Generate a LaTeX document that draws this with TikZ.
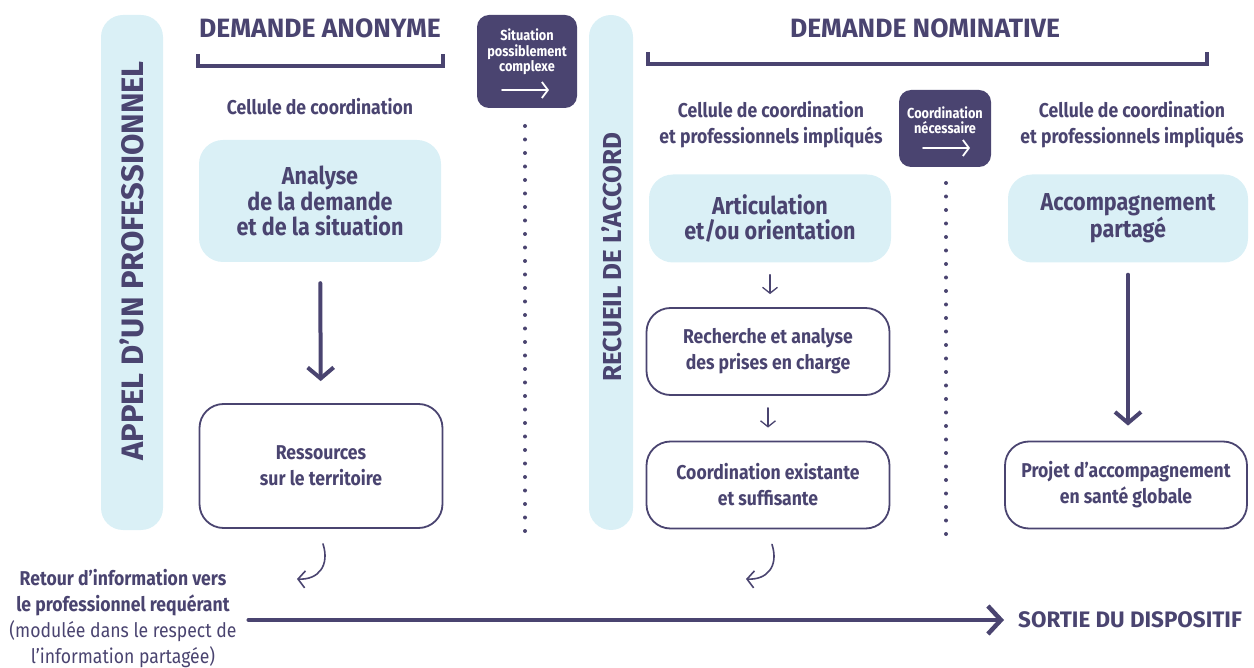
\documentclass[tikz,border=0pt]{standalone}
\usepackage{fontspec}
\setmainfont{Fira Sans}[FakeStretch=0.88]
\newfontfamily\largefont{Fira Sans}
\usetikzlibrary{arrows.meta}
\definecolor{prune}{RGB}{74,68,112}
\definecolor{ciel}{RGB}{218,240,246}

\begin{document}
\begin{tikzpicture}[x=1pt,y=-1pt,line cap=round,
    every node/.style = {text=prune, align=center, inner sep=2pt},
    band/.style = {fill=ciel, rounded corners=22pt, minimum height=515pt},
    bandtext/.style = {rotate=90, font=\largefont\bfseries},
    titre/.style = {font=\largefont\bfseries\fontsize{26.5}{30}\selectfont},
    cellule/.style = {font=\bfseries\fontsize{20}{26}\selectfont},
    etape/.style = {fill=ciel, rounded corners=24pt,
        font=\bfseries\fontsize{24.5}{25.5}\selectfont},
    cadre/.style = {draw=prune, line width=1.8pt, rounded corners=24pt,
        font=\bfseries\fontsize{20}{26}\selectfont},
    bascule/.style = {fill=prune, rounded corners=12pt},
    basculetext/.style = {text=white, font=\bfseries\fontsize{14.5}{15.5}\selectfont},
    fleche/.style = {draw=prune, line width=4pt,
        -{Straight Barb[length=11pt,width=26pt]}},
    petitefleche/.style = {draw=prune, line width=1.3pt,
        -{Straight Barb[length=6pt,width=15pt]}},
    retourfleche/.style = {draw=prune, line width=1.6pt,
        -{Straight Barb[length=7pt,width=17pt]}},
    blanche/.style = {draw=white, line width=1.8pt,
        -{Straight Barb[length=6pt,width=16pt]}},
    crochet/.style = {draw=prune, line width=3.5pt, line cap=butt},
    pointilles/.style = {draw=prune, line width=4pt,
        dash pattern=on 0pt off 13.5pt}]

\useasboundingbox (0,0) rectangle (1254,668);

% Bandes verticales
\node[band, minimum width=62pt] (appel) at (132,272.5) {};
\node[bandtext, font=\largefont\bfseries\fontsize{31}{32}\selectfont] (appeltxt) at (132,261)
    {APPEL D’UN PROFESSIONNEL};
\node[band, minimum width=44pt] (accord) at (611,272.5) {};
\node[bandtext, font=\largefont\bfseries\fontsize{26}{28}\selectfont] (accordtxt) at (612,257)
    {RECUEIL DE L’ACCORD};

% Demande anonyme
\node[titre] (anonyme) at (320,28) {DEMANDE ANONYME};
\draw[crochet] (198,54) -- (198,66) -- (443,66) -- (443,54);
\node[cellule] (cellA) at (320,107) {Cellule de coordination};
\node[etape, minimum width=242pt, minimum height=122pt] (analyse) at (320,201)
    {Analyse\\de la demande\\et de la situation};
\node[cadre, minimum width=243pt, minimum height=124pt] (ressources) at (321,466)
    {Ressources\\sur le territoire};
\draw[fleche, shorten <=21pt, shorten >=22pt] (analyse) -- (ressources);

% Situation possiblement complexe
\node[bascule, minimum width=100pt, minimum height=93pt] (situation) at (527,61.5) {};
\node[basculetext] (situationtxt) at (527,52) {Situation\\possiblement\\complexe};
\draw[blanche] (502,90) -- (549,90);
\draw[pointilles] (525,126) -- (525,536);

% Demande nominative
\node[titre] (nominative) at (925,28) {DEMANDE NOMINATIVE};
\draw[crochet] (648,52) -- (648,64) -- (1207,64) -- (1207,52);
\node[cellule] (cellB) at (771,125) {Cellule de coordination\\et professionnels impliqués};
\node[cellule] (cellC) at (1132,125) {Cellule de coordination\\et professionnels impliqués};
\node[etape, minimum width=242pt, minimum height=88pt] (articulation) at (770,218.5)
    {Articulation\\et/ou orientation};
\node[cadre, minimum width=243pt, minimum height=87pt] (recherche) at (768,351.5)
    {Recherche et analyse\\des prises en charge};
\node[cadre, minimum width=243pt, minimum height=87pt] (existante) at (768,485)
    {Coordination existante\\et suffisante};
\draw[petitefleche, shorten <=12pt, shorten >=13pt] (articulation) -- (articulation |- recherche.north);
\draw[petitefleche, shorten <=12pt, shorten >=13pt] (recherche) -- (existante);

% Coordination necessaire
\node[bascule, minimum width=92pt, minimum height=77pt] (necessaire) at (945,128.5) {};
\node[basculetext] (necessairetxt) at (945,120) {Coordination\\nécessaire};
\draw[blanche] (923,148) -- (970,148);
\draw[pointilles] (946,183) -- (946,540);

\node[etape, minimum width=240pt, minimum height=88pt] (accompagnement) at (1128,218.5)
    {Accompagnement\\partagé};
\node[cadre, minimum width=242pt, minimum height=87pt] (projet) at (1126,485)
    {Projet d’accompagnement\\en santé globale};
\draw[fleche, shorten <=12pt, shorten >=15pt] (accompagnement) -- (accompagnement |- projet.north);

% Retours
\coordinate (retourA) at (297,579);
\coordinate (retourB) at (746,579);
\draw[retourfleche] ([xshift=2pt,yshift=-15pt]ressources.south)
    .. controls +(7,22) and (318,580) .. (retourA);
\draw[retourfleche] ([xshift=4pt,yshift=-15pt]existante.south)
    .. controls +(7,22) and (767,580) .. (retourB);

% Sortie
\node[font=\fontsize{20}{26}\selectfont] (retour) at (123,619)
    {\textbf{Retour d’information vers}\\\textbf{le professionnel requérant}\\(modulée dans le respect de\\l’information partagée)};
\node[titre, font=\largefont\bfseries\fontsize{22.4}{25}\selectfont, anchor=west] (sortie) at (1016,620)
    {SORTIE DU DISPOSITIF};
\draw[draw=prune, line width=4.5pt, -{Straight Barb[length=13pt,width=28pt]},
    shorten <=10pt, shorten >=12pt] (retour.east |- sortie.west) -- (sortie.west);
\end{tikzpicture}
\end{document}
